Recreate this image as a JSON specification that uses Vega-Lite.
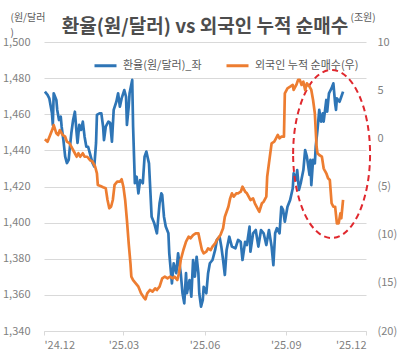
{
"$schema": "https://vega.github.io/schema/vega-lite/v6.json",
"width": 322, "height": 289,
"autosize": {"type": "none"},
"padding": {"left": 44, "top": 42, "right": 34, "bottom": 32},
"background": "white",
"config": {"font": "Noto Sans CJK KR", "view": {"stroke": null}},
"title": {"text": "환율(원/달러) vs 외국인 누적 순매수", "fontSize": 19, "fontWeight": "bold", "color": "#4d4d4d", "anchor": "middle", "dy": 29},
"datasets": {
"fx": [
{"d":"2024-12-02","v":1472.5},{"d":"2024-12-05","v":1470.7},{"d":"2024-12-07","v":1468.8},{"d":"2024-12-10","v":1460.7},{"d":"2024-12-11","v":1454.1},{"d":"2024-12-12","v":1471.6},{"d":"2024-12-15","v":1467.9},{"d":"2024-12-16","v":1462.4},{"d":"2024-12-18","v":1456.8},{"d":"2024-12-20","v":1458.6},{"d":"2024-12-21","v":1453.1},{"d":"2024-12-23","v":1445.7},{"d":"2024-12-25","v":1436.5},{"d":"2024-12-27","v":1433.0},{"d":"2024-12-29","v":1434.7},{"d":"2024-12-30","v":1440.2},
{"d":"2025-01-01","v":1449.6},{"d":"2025-01-03","v":1456.8},{"d":"2025-01-05","v":1461.4},{"d":"2025-01-07","v":1449.6},{"d":"2025-01-08","v":1444.1},{"d":"2025-01-10","v":1454.1},{"d":"2025-01-12","v":1451.3},{"d":"2025-01-14","v":1455.9},{"d":"2025-01-16","v":1447.6},{"d":"2025-01-18","v":1442.0},{"d":"2025-01-20","v":1442.0},{"d":"2025-01-21","v":1440.2},{"d":"2025-01-23","v":1436.5},{"d":"2025-01-25","v":1433.0},{"d":"2025-01-27","v":1431.0},{"d":"2025-01-29","v":1444.1},{"d":"2025-01-30","v":1459.6},
{"d":"2025-02-02","v":1460.5},{"d":"2025-02-04","v":1460.5},{"d":"2025-02-06","v":1453.1},{"d":"2025-02-07","v":1445.7},{"d":"2025-02-09","v":1453.1},{"d":"2025-02-12","v":1455.9},{"d":"2025-02-14","v":1455.2},{"d":"2025-02-16","v":1444.8},{"d":"2025-02-18","v":1462.4},{"d":"2025-02-21","v":1466.9},{"d":"2025-02-23","v":1471.6},{"d":"2025-02-25","v":1464.2},{"d":"2025-02-27","v":1468.8},
{"d":"2025-03-02","v":1473.4},{"d":"2025-03-04","v":1469.7},{"d":"2025-03-05","v":1454.1},{"d":"2025-03-07","v":1464.2},{"d":"2025-03-08","v":1471.6},{"d":"2025-03-11","v":1479.0},{"d":"2025-03-12","v":1453.1},{"d":"2025-03-14","v":1421.8},{"d":"2025-03-16","v":1425.4},{"d":"2025-03-18","v":1416.2},{"d":"2025-03-20","v":1423.6},{"d":"2025-03-23","v":1421.8},{"d":"2025-03-25","v":1436.5},{"d":"2025-03-27","v":1439.3},{"d":"2025-03-30","v":1432.8},
{"d":"2025-04-02","v":1403.3},{"d":"2025-04-05","v":1399.6},{"d":"2025-04-08","v":1394.1},{"d":"2025-04-11","v":1410.7},{"d":"2025-04-13","v":1416.2},{"d":"2025-04-14","v":1415.3},{"d":"2025-04-16","v":1403.3},{"d":"2025-04-18","v":1397.8},{"d":"2025-04-21","v":1394.1},{"d":"2025-04-22","v":1383.0},{"d":"2025-04-25","v":1366.4},{"d":"2025-04-27","v":1377.5},{"d":"2025-04-30","v":1372.0},
{"d":"2025-05-02","v":1383.0},{"d":"2025-05-05","v":1372.0},{"d":"2025-05-07","v":1360.9},{"d":"2025-05-09","v":1355.3},{"d":"2025-05-11","v":1372.0},{"d":"2025-05-12","v":1360.9},{"d":"2025-05-15","v":1368.2},{"d":"2025-05-17","v":1359.0},{"d":"2025-05-19","v":1379.3},{"d":"2025-05-21","v":1370.1},{"d":"2025-05-23","v":1381.1},{"d":"2025-05-25","v":1372.0},{"d":"2025-05-26","v":1360.9},{"d":"2025-05-28","v":1353.5},{"d":"2025-05-30","v":1357.2},{"d":"2025-05-31","v":1364.5},
{"d":"2025-06-03","v":1360.9},{"d":"2025-06-05","v":1372.0},{"d":"2025-06-07","v":1377.5},{"d":"2025-06-10","v":1379.3},{"d":"2025-06-13","v":1384.9},{"d":"2025-06-15","v":1390.4},{"d":"2025-06-18","v":1392.2},{"d":"2025-06-20","v":1386.7},{"d":"2025-06-22","v":1379.3},{"d":"2025-06-24","v":1371.0},{"d":"2025-06-26","v":1384.9},{"d":"2025-06-29","v":1392.2},
{"d":"2025-07-02","v":1386.7},{"d":"2025-07-06","v":1385.8},{"d":"2025-07-09","v":1390.4},{"d":"2025-07-12","v":1389.4},{"d":"2025-07-14","v":1379.3},{"d":"2025-07-17","v":1389.4},{"d":"2025-07-19","v":1387.6},{"d":"2025-07-22","v":1397.8},{"d":"2025-07-23","v":1383.9},{"d":"2025-07-26","v":1394.1},{"d":"2025-07-29","v":1395.9},
{"d":"2025-08-01","v":1386.7},{"d":"2025-08-04","v":1395.9},{"d":"2025-08-07","v":1394.1},{"d":"2025-08-10","v":1387.6},{"d":"2025-08-13","v":1395.9},{"d":"2025-08-16","v":1386.7},{"d":"2025-08-18","v":1376.5},{"d":"2025-08-20","v":1394.1},{"d":"2025-08-22","v":1396.9},{"d":"2025-08-25","v":1394.1},{"d":"2025-08-27","v":1408.8},{"d":"2025-08-29","v":1407.0},{"d":"2025-08-31","v":1400.5},
{"d":"2025-09-03","v":1408.8},{"d":"2025-09-06","v":1412.5},{"d":"2025-09-09","v":1419.0},{"d":"2025-09-10","v":1427.3},{"d":"2025-09-13","v":1423.6},{"d":"2025-09-14","v":1429.1},{"d":"2025-09-16","v":1418.1},{"d":"2025-09-18","v":1421.8},{"d":"2025-09-21","v":1429.1},{"d":"2025-09-23","v":1440.2},{"d":"2025-09-25","v":1436.5},{"d":"2025-09-28","v":1426.4},{"d":"2025-09-29","v":1434.7},{"d":"2025-09-30","v":1420.8},
{"d":"2025-10-02","v":1434.7},{"d":"2025-10-04","v":1432.8},{"d":"2025-10-05","v":1442.0},{"d":"2025-10-07","v":1451.3},{"d":"2025-10-09","v":1462.4},{"d":"2025-10-11","v":1455.9},{"d":"2025-10-13","v":1460.5},{"d":"2025-10-14","v":1455.9},{"d":"2025-10-17","v":1467.9},{"d":"2025-10-18","v":1461.4},{"d":"2025-10-20","v":1471.6},{"d":"2025-10-23","v":1474.4},{"d":"2025-10-25","v":1477.1},{"d":"2025-10-27","v":1466.1},{"d":"2025-10-28","v":1462.4},{"d":"2025-10-29","v":1468.8},
{"d":"2025-11-01","v":1466.9},{"d":"2025-11-03","v":1469.7},{"d":"2025-11-05","v":1472.5}
],
"flow": [
{"d":"2024-12-02","v":-0.10},{"d":"2024-12-05","v":-0.35},{"d":"2024-12-08","v":0.35},{"d":"2024-12-11","v":1.04},{"d":"2024-12-12","v":1.38},{"d":"2024-12-15","v":0.52},{"d":"2024-12-17","v":0.35},{"d":"2024-12-19","v":0.86},{"d":"2024-12-22","v":0.35},{"d":"2024-12-25","v":0.17},{"d":"2024-12-27","v":-0.35},{"d":"2024-12-30","v":-0.52},
{"d":"2025-01-02","v":-1.04},{"d":"2025-01-05","v":-1.55},{"d":"2025-01-07","v":-1.91},{"d":"2025-01-09","v":-1.55},{"d":"2025-01-11","v":-1.91},{"d":"2025-01-14","v":-1.55},{"d":"2025-01-16","v":-1.91},{"d":"2025-01-19","v":-1.91},{"d":"2025-01-22","v":-2.25},{"d":"2025-01-25","v":-2.43},{"d":"2025-01-28","v":-2.95},{"d":"2025-01-30","v":-3.63},{"d":"2025-01-31","v":-4.84},
{"d":"2025-02-03","v":-4.95},{"d":"2025-02-06","v":-5.08},{"d":"2025-02-09","v":-5.19},{"d":"2025-02-11","v":-6.40},{"d":"2025-02-13","v":-7.26},{"d":"2025-02-15","v":-7.10},{"d":"2025-02-17","v":-6.40},{"d":"2025-02-19","v":-4.84},{"d":"2025-02-22","v":-4.50},{"d":"2025-02-25","v":-4.50},{"d":"2025-02-27","v":-4.25},
{"d":"2025-03-01","v":-5.02},{"d":"2025-03-03","v":-6.40},{"d":"2025-03-05","v":-8.48},{"d":"2025-03-07","v":-10.90},{"d":"2025-03-09","v":-12.97},{"d":"2025-03-10","v":-14.36},{"d":"2025-03-12","v":-14.71},{"d":"2025-03-15","v":-15.05},{"d":"2025-03-18","v":-15.40},{"d":"2025-03-21","v":-16.09},{"d":"2025-03-24","v":-16.50},{"d":"2025-03-26","v":-16.71},{"d":"2025-03-28","v":-16.09},{"d":"2025-03-31","v":-15.74},
{"d":"2025-04-03","v":-15.92},{"d":"2025-04-06","v":-15.57},{"d":"2025-04-08","v":-15.74},{"d":"2025-04-11","v":-15.40},{"d":"2025-04-14","v":-14.53},{"d":"2025-04-17","v":-14.36},{"d":"2025-04-20","v":-14.53},{"d":"2025-04-23","v":-14.36},{"d":"2025-04-26","v":-14.53},{"d":"2025-04-28","v":-14.36},
{"d":"2025-05-01","v":-14.71},{"d":"2025-05-03","v":-14.01},{"d":"2025-05-05","v":-12.63},{"d":"2025-05-08","v":-11.59},{"d":"2025-05-11","v":-10.73},{"d":"2025-05-14","v":-10.21},{"d":"2025-05-16","v":-10.38},{"d":"2025-05-19","v":-10.04},{"d":"2025-05-22","v":-9.86},{"d":"2025-05-25","v":-9.86},{"d":"2025-05-27","v":-10.73},{"d":"2025-05-29","v":-11.59},{"d":"2025-05-31","v":-11.94},
{"d":"2025-06-03","v":-11.77},{"d":"2025-06-05","v":-11.42},{"d":"2025-06-08","v":-11.59},{"d":"2025-06-10","v":-11.25},{"d":"2025-06-13","v":-10.90},{"d":"2025-06-15","v":-10.55},{"d":"2025-06-19","v":-10.04},{"d":"2025-06-22","v":-9.34},{"d":"2025-06-24","v":-8.14},{"d":"2025-06-28","v":-7.10},{"d":"2025-06-30","v":-6.23},
{"d":"2025-07-02","v":-5.71},{"d":"2025-07-04","v":-6.06},{"d":"2025-07-07","v":-5.71},{"d":"2025-07-09","v":-5.71},{"d":"2025-07-12","v":-5.54},{"d":"2025-07-14","v":-5.02},{"d":"2025-07-17","v":-5.54},{"d":"2025-07-19","v":-5.71},{"d":"2025-07-23","v":-6.40},{"d":"2025-07-26","v":-6.23},{"d":"2025-07-28","v":-6.74},{"d":"2025-07-31","v":-7.26},
{"d":"2025-08-02","v":-7.62},{"d":"2025-08-05","v":-6.74},{"d":"2025-08-07","v":-6.58},{"d":"2025-08-10","v":-6.06},{"d":"2025-08-11","v":-3.98},{"d":"2025-08-13","v":-2.59},{"d":"2025-08-16","v":-0.52},{"d":"2025-08-19","v":-0.35},{"d":"2025-08-21","v":0.00},{"d":"2025-08-23","v":0.35},{"d":"2025-08-25","v":0.00},{"d":"2025-08-27","v":0.17},{"d":"2025-08-30","v":0.17},{"d":"2025-08-31","v":4.67},
{"d":"2025-09-03","v":5.19},{"d":"2025-09-06","v":5.36},{"d":"2025-09-09","v":5.54},{"d":"2025-09-10","v":5.02},{"d":"2025-09-13","v":5.54},{"d":"2025-09-15","v":6.06},{"d":"2025-09-17","v":6.06},{"d":"2025-09-19","v":5.54},{"d":"2025-09-21","v":5.88},{"d":"2025-09-23","v":5.02},{"d":"2025-09-25","v":5.71},{"d":"2025-09-28","v":5.36},{"d":"2025-09-30","v":5.02},
{"d":"2025-10-02","v":3.98},{"d":"2025-10-04","v":2.60},{"d":"2025-10-06","v":-0.87},{"d":"2025-10-07","v":-1.55},{"d":"2025-10-09","v":-1.73},{"d":"2025-10-12","v":-1.91},{"d":"2025-10-14","v":-3.11},{"d":"2025-10-15","v":-3.29},{"d":"2025-10-17","v":-3.63},{"d":"2025-10-19","v":-4.15},{"d":"2025-10-21","v":-4.33},{"d":"2025-10-23","v":-6.74},{"d":"2025-10-25","v":-7.10},{"d":"2025-10-27","v":-7.10},{"d":"2025-10-29","v":-8.82},{"d":"2025-10-31","v":-8.82},
{"d":"2025-11-02","v":-7.78},{"d":"2025-11-03","v":-8.30},{"d":"2025-11-05","v":-6.40}
],
"note": [{"d":"2025-10-23","v":1438}]
},
"layer": [
{
"data": {"name": "fx"},
"mark": {"type": "line", "strokeWidth": 2.7, "strokeJoin": "round"},
"encoding": {
"x": {"field": "d", "type": "temporal",
"scale": {"type": "utc", "domain": [{"year": 2024, "month": 12, "date": 1, "utc": true}, {"year": 2025, "month": 12, "date": 1, "utc": true}]},
"axis": {"values": [{"year": 2024, "month": 12, "date": 1, "utc": true}, {"year": 2025, "month": 3, "date": 1, "utc": true}, {"year": 2025, "month": 6, "date": 1, "utc": true}, {"year": 2025, "month": 9, "date": 1, "utc": true}, {"year": 2025, "month": 12, "date": 1, "utc": true}],
"labelExpr": "\"'\" + utcFormat(datum.value, '%y.%m')",
"grid": false, "domainColor": "#d9d9d9", "tickColor": "#d9d9d9", "tickSize": 4, "labelPadding": 4, "labelFontSize": 11, "labelColor": "#7f7f7f", "title": null}},
"y": {"field": "v", "type": "quantitative",
"scale": {"domain": [1340, 1500], "zero": false, "nice": false},
"axis": {"orient": "left", "values": [1340, 1360, 1380, 1400, 1420, 1440, 1460, 1480, 1500], "format": ",.0f", "grid": true, "gridColor": "#d9d9d9", "domain": false, "ticks": false, "labelPadding": 14, "labelFontSize": 11, "labelColor": "#7f7f7f",
"title": ["(원/달러", ")"], "titleAngle": 0, "titleX": -34, "titleY": -22, "titleAlign": "left", "titleBaseline": "alphabetic", "titleFontSize": 10, "titleFontWeight": "normal", "titleColor": "#595959", "titleLineHeight": 15}},
"color": {"datum": "환율(원/달러)_좌", "type": "nominal",
"scale": {"domain": ["환율(원/달러)_좌", "외국인 누적 순매수(우)"], "range": ["#2e75b6", "#ed7d31"]},
"legend": {"orient": "none", "legendX": 49, "legendY": 11, "direction": "horizontal", "symbolType": "stroke", "symbolSize": 484, "symbolStrokeWidth": 3, "labelFontSize": 11, "labelColor": "#595959", "title": null, "columnPadding": 18, "labelOffset": 5}}
}
},
{
"data": {"name": "note"},
"mark": {"type": "point", "shape": "M -0.458 0 A 0.458 1 0 1 1 0.458 0 A 0.458 1 0 1 1 -0.458 0 Z", "size": 28224, "filled": false, "stroke": "#e0282e", "strokeWidth": 2, "strokeDash": [6, 4], "opacity": 1},
"encoding": {
"x": {"field": "d", "type": "temporal"},
"y": {"field": "v", "type": "quantitative", "scale": {"domain": [1340, 1500], "zero": false, "nice": false}, "axis": null}
}
},
{
"data": {"name": "flow"},
"mark": {"type": "line", "strokeWidth": 2.7, "strokeJoin": "round"},
"encoding": {
"x": {"field": "d", "type": "temporal"},
"y": {"field": "v", "type": "quantitative",
"scale": {"domain": [-20, 10], "zero": false, "nice": false},
"axis": {"orient": "right", "values": [-20, -15, -10, -5, 0, 5, 10], "labelExpr": "datum.value < 0 ? '(' + abs(datum.value) + ')' : '' + datum.value", "grid": false, "domain": false, "ticks": false, "labelPadding": 11, "labelFontSize": 11, "labelColor": "#7f7f7f",
"title": "(조원)", "titleAngle": 0, "titleX": -16, "titleY": -22, "titleAlign": "left", "titleBaseline": "alphabetic", "titleFontSize": 10, "titleFontWeight": "normal", "titleColor": "#595959"}},
"color": {"datum": "외국인 누적 순매수(우)", "type": "nominal"}
}
}
],
"resolve": {"scale": {"y": "independent"}}
}
